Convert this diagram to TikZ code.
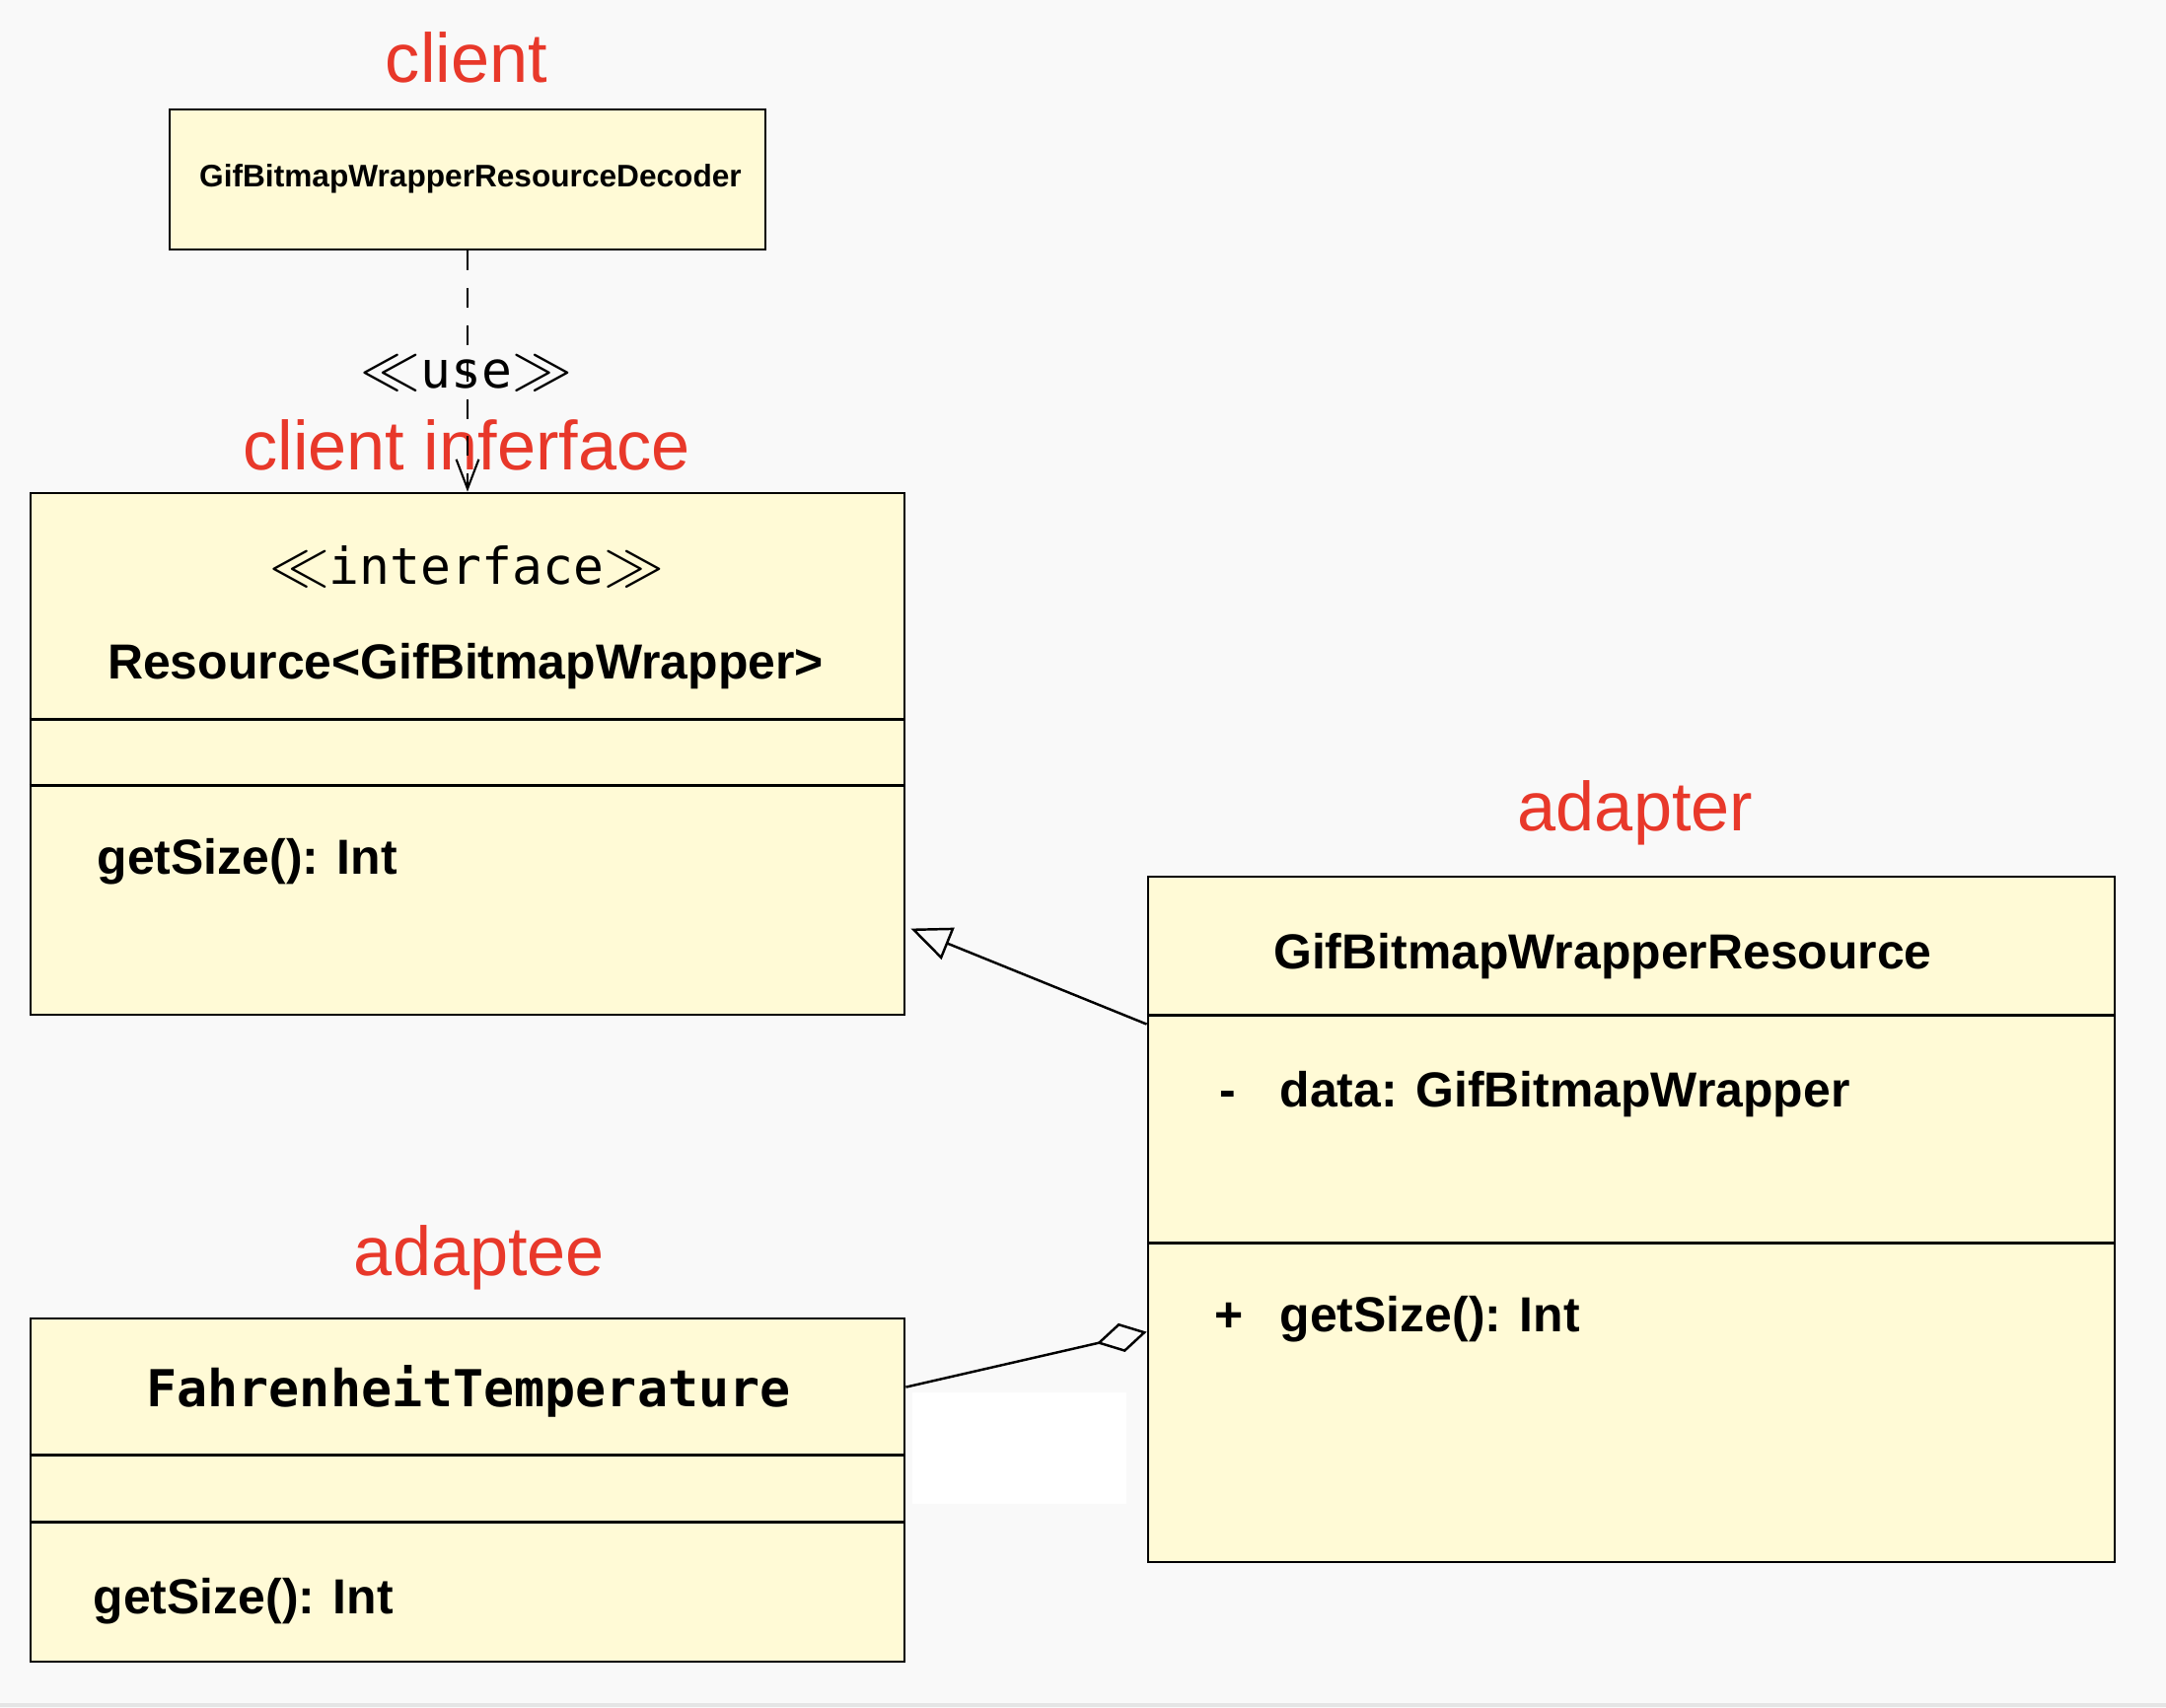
\documentclass[tikz,border=0pt]{standalone}
\usepackage{fontspec}
\setmainfont{Liberation Sans}
\newfontfamily\monofont{DejaVu Sans Mono}
\usetikzlibrary{arrows.meta}
\definecolor{umlyellow}{HTML}{FFFAD6}
\definecolor{rolered}{HTML}{E8382A}
\definecolor{bggray}{HTML}{F9F9F9}
\newcommand{\sll}{{\fontsize{19}{20}\selectfont$\ll$}}
\newcommand{\sgg}{{\fontsize{19}{20}\selectfont$\gg$}}

\begin{document}
\begin{tikzpicture}[x=1cm,y=-1cm,
    classbox/.style={draw, line width=0.8pt, fill=umlyellow, inner sep=0pt},
    role/.style={text=rolered, anchor=base, font=\fontsize{20}{24}\selectfont},
    member/.style={anchor=base west, inner sep=0pt, font=\bfseries\fontsize{14.2}{17}\selectfont},
    title/.style={anchor=base, font=\bfseries\fontsize{14.2}{17}\selectfont},
    stereo/.style={anchor=base, font=\monofont\fontsize{14.6}{17}\selectfont},
    divider/.style={line width=0.8pt}]
    % background
    \fill[bggray] (0,0) rectangle (21.96,17.32);
    \useasboundingbox (0,0) rectangle (21.96,17.32);
    \draw[gray!20, line width=1.2pt] (0,17.29) -- (21.96,17.29);

    % client
    \node[role] (lclient) at (4.73,0.84) {client};
    \node[classbox, minimum width=6.04cm, minimum height=1.42cm] (client) at (4.74,1.82) {};
    \node[anchor=base, font=\bfseries\fontsize{9}{11}\selectfont] (clientname) at (4.77,1.90) {GifBitmapWrapperResourceDecoder};

    % client interface
    \node[role] (liface) at (4.73,4.76) {client inferface};
    \node[stereo] (use) at (4.73,3.93) {\sll use\sgg};
    \node[classbox, minimum width=8.86cm, minimum height=5.29cm] (iface) at (4.74,7.645) {};
    \node[stereo] (ifacestereo) at (4.73,5.92) {\sll interface\sgg};
    \node[title] (ifacename) at (4.72,6.88) {Resource<GifBitmapWrapper>};
    \draw[divider] ([shift={(0,2.31)}]iface.north west) -- ([shift={(0,2.31)}]iface.north east);
    \draw[divider] ([shift={(0,2.98)}]iface.north west) -- ([shift={(0,2.98)}]iface.north east);
    \node[member] (ifaceop) at (0.98,8.86) {getSize(): Int};

    % adapter
    \node[role] (ladapter) at (16.58,8.42) {adapter};
    \node[classbox, minimum width=9.80cm, minimum height=6.95cm] (adapter) at (16.54,12.365) {};
    \node[title] (adaptername) at (16.25,9.82) {GifBitmapWrapperResource};
    \draw[divider] ([shift={(0,1.42)}]adapter.north west) -- ([shift={(0,1.42)}]adapter.north east);
    \draw[divider] ([shift={(0,3.73)}]adapter.north west) -- ([shift={(0,3.73)}]adapter.north east);
    \node[title] (minus) at (12.45,11.22) {-};
    \node[member] (adapterattr) at (12.97,11.22) {data: GifBitmapWrapper};
    \node[title] (plus) at (12.46,13.50) {+};
    \node[member] (adapterop) at (12.97,13.50) {getSize(): Int};

    % adaptee
    \node[role] (ladaptee) at (4.86,12.93) {adaptee};
    \node[classbox, minimum width=8.86cm, minimum height=3.48cm] (adaptee) at (4.74,15.11) {};
    \node[anchor=base, font=\monofont\bfseries\fontsize{14.7}{17}\selectfont] (adapteename) at (4.75,14.26) {FahrenheitTemperature};
    \draw[divider] ([shift={(0,1.40)}]adaptee.north west) -- ([shift={(0,1.40)}]adaptee.north east);
    \draw[divider] ([shift={(0,2.08)}]adaptee.north west) -- ([shift={(0,2.08)}]adaptee.north east);
    \node[member] (adapteeop) at (0.94,16.36) {getSize(): Int};

    % white patch
    \fill[white] (9.25,14.12) rectangle (11.42,15.25);

    % relations
    \draw[dash pattern=on 5.7pt off 5pt, line width=0.6pt, -{Straight Barb[length=8.5pt,width=6.5pt]}] (client.south) -- (iface.north);
    \draw[line width=0.7pt, -{Triangle[open, fill=bggray, length=11.6pt, width=9.8pt]}] ([shift={(0,1.51)}]adapter.north west) -- ([shift={(0.05,4.43)}]iface.north east);
    \draw[line width=0.7pt, -{Diamond[open, fill=bggray, length=14.8pt, width=8.5pt]}] ([shift={(0,0.71)}]adaptee.north east) -- ([shift={(0,4.63)}]adapter.north west);
\end{tikzpicture}
\end{document}
